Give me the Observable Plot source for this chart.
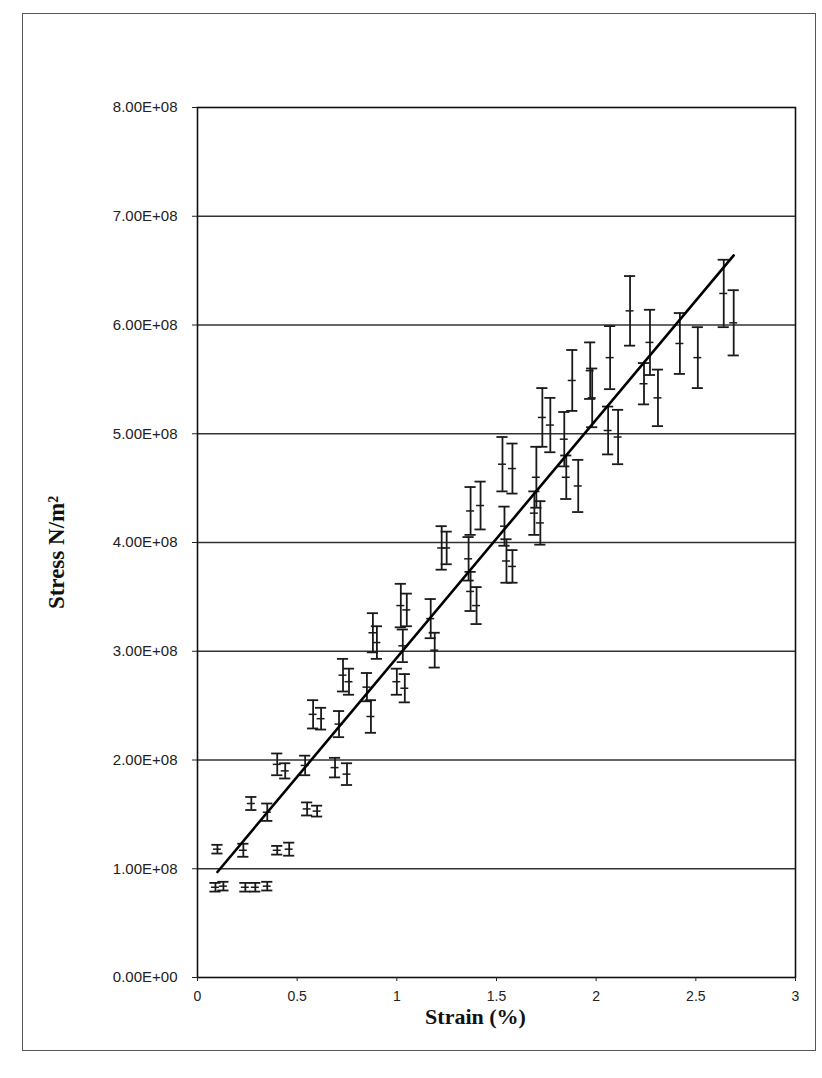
<!DOCTYPE html>
<html><head><meta charset="utf-8">
<script src="https://cdn.jsdelivr.net/npm/d3@7"></script>
<script src="https://cdn.jsdelivr.net/npm/@observablehq/plot@0.6"></script>
<style>
body{margin:0;background:#fff}
#wrap{position:relative;width:822px;height:1078px}
#wrap svg{position:absolute;left:0;top:0}
#border{position:absolute;left:22px;top:13px;width:792px;height:1036px;border:1.5px solid #555;pointer-events:none}
</style>
</head><body>
<div id="wrap"><div id="border"></div></div>
<script>
// Strain (%) of each measured point
const strain = [0.09,0.13,0.24,0.29,0.35, 0.10,0.23,0.40,0.46, 0.27,0.35,0.55,0.60,
  0.40,0.44,0.54,0.69,0.75, 0.58,0.62,0.71,0.73,0.76,0.85,0.87,0.88,0.90,
  1.00,1.04,1.02,1.05,1.03,1.17,1.19,1.225,1.25,1.37,1.42,1.36,1.37,1.40,
  1.54,1.55,1.58,1.53,1.58,1.69,1.72,1.70,1.73,1.77,1.84,1.85,1.88,1.91,
  1.97,1.98,2.07,2.06,2.11,2.17,2.24,2.27,2.31,2.42,2.51,2.64,2.69];
// Stress (N/m²) of each point
const stress = [0.83e8,0.84e8,0.83e8,0.83e8,0.84e8, 1.18e8,1.17e8,1.17e8,1.18e8, 1.60e8,1.52e8,1.55e8,1.53e8,
  1.96e8,1.90e8,1.95e8,1.93e8,1.87e8, 2.42e8,2.38e8,2.33e8,2.78e8,2.72e8,2.67e8,2.40e8,3.17e8,3.08e8,
  2.72e8,2.66e8,3.42e8,3.38e8,3.05e8,3.30e8,3.01e8,3.95e8,3.95e8,4.29e8,4.34e8,3.85e8,3.55e8,3.42e8,
  4.15e8,3.83e8,3.78e8,4.72e8,4.68e8,4.27e8,4.18e8,4.60e8,5.15e8,5.08e8,4.95e8,4.60e8,5.49e8,4.52e8,
  5.58e8,5.33e8,5.70e8,5.03e8,4.97e8,6.13e8,5.46e8,5.84e8,5.33e8,5.83e8,5.70e8,6.29e8,6.02e8];
// Half-length of each error bar (N/m²)
const stressErr = [0.04e8,0.04e8,0.04e8,0.04e8,0.04e8, 0.04e8,0.06e8,0.04e8,0.06e8, 0.06e8,0.08e8,0.06e8,0.05e8,
  0.10e8,0.07e8,0.09e8,0.09e8,0.10e8, 0.13e8,0.10e8,0.12e8,0.15e8,0.12e8,0.13e8,0.15e8,0.18e8,0.15e8,
  0.12e8,0.13e8,0.20e8,0.15e8,0.15e8,0.18e8,0.16e8,0.20e8,0.15e8,0.22e8,0.22e8,0.20e8,0.18e8,0.17e8,
  0.18e8,0.20e8,0.15e8,0.25e8,0.23e8,0.20e8,0.20e8,0.28e8,0.27e8,0.25e8,0.25e8,0.20e8,0.28e8,0.24e8,
  0.26e8,0.27e8,0.29e8,0.22e8,0.25e8,0.32e8,0.19e8,0.30e8,0.26e8,0.28e8,0.28e8,0.31e8,0.30e8];
// Linear fit line end points
const fitStrain = [0.10, 2.69];
const fitStress = [0.97e8, 6.64e8];
// Axis ticks
const xTicks = [0, 0.5, 1, 1.5, 2, 2.5, 3];
const yTicks = [0, 1e8, 2e8, 3e8, 4e8, 5e8, 6e8, 7e8, 8e8];
const xTitle = "Strain (%)";
const yTitle = "Stress N/m\u00B2";

const pts = strain.map((x, i) => ({x, y: stress[i], e: stressErr[i]}));
const fit = fitStrain.map((x, i) => ({x, y: fitStress[i]}));
const capW = 0.028, midW = 0.02;

const fmt = v => {
  const [m, e] = v.toExponential(2).split("e");
  const n = Math.abs(+e);
  return m + "E" + (+e < 0 ? "-" : "+") + String(n).padStart(2, "0");
};

const serif = "'Liberation Serif', 'Times New Roman', serif";
const chart = Plot.plot({
  width: 822, height: 1078,
  marginLeft: 197, marginRight: 27, marginTop: 107, marginBottom: 101,
  x: {domain: [0, 3]},
  y: {domain: [0, 8e8]},
  style: {fontFamily: "'Liberation Sans', Arial, sans-serif", fontSize: "14px", background: "transparent", color: "#222"},
  marks: [
    Plot.ruleY(yTicks.slice(1, -1), {stroke: "#333", strokeWidth: 1.6}),
    Plot.frame({stroke: "#111", strokeWidth: 1.6}),
    Plot.axisY({ticks: yTicks, tickFormat: fmt, tickSize: 5, tickPadding: 15, label: null, fontSize: 15, letterSpacing: "1.4px"}),
    Plot.axisX({ticks: xTicks, tickFormat: d => String(d), tickSize: 4, tickPadding: 10, label: null, fontSize: 14, letterSpacing: "1px"}),
    Plot.ruleX(pts, {x: "x", y1: d => d.y - d.e, y2: d => d.y + d.e, stroke: "#1a1a1a", strokeWidth: 1.8}),
    Plot.ruleY(pts, {y: d => d.y + d.e, x1: d => d.x - capW, x2: d => d.x + capW, stroke: "#1a1a1a", strokeWidth: 1.8}),
    Plot.ruleY(pts, {y: d => d.y - d.e, x1: d => d.x - capW, x2: d => d.x + capW, stroke: "#1a1a1a", strokeWidth: 1.8}),
    Plot.ruleY(pts, {y: "y", x1: d => d.x - midW, x2: d => d.x + midW, stroke: "#1a1a1a", strokeWidth: 1.5}),
    Plot.line(fit, {x: "x", y: "y", stroke: "#000", strokeWidth: 2.6}),
    Plot.text([yTitle], {frameAnchor: "left", dx: -141, dy: 10, rotate: -90, textAnchor: "middle", fontFamily: serif, fontWeight: "bold", fontSize: 23, letterSpacing: "3px", fill: "#111"}),
    Plot.text([xTitle], {frameAnchor: "bottom", dx: -21, dy: 46, fontFamily: serif, fontWeight: "bold", fontSize: 22, letterSpacing: "3.5px", fill: "#111"})
  ]
});
document.getElementById("wrap").prepend(chart);
</script>
</body></html>
